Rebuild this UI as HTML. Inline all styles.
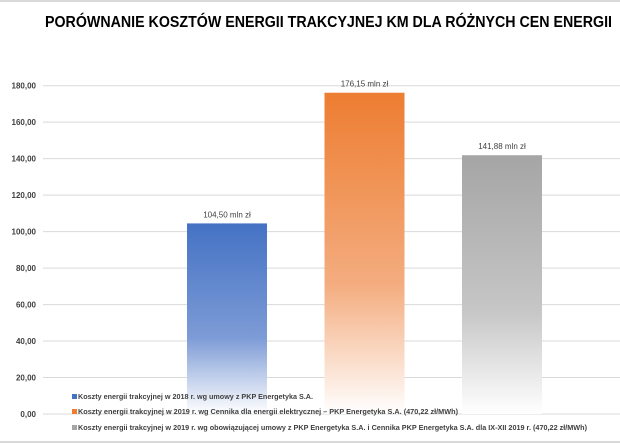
<!DOCTYPE html>
<html><head><meta charset="utf-8"><style>
html,body{margin:0;padding:0;background:#fff;width:620px;height:443px;overflow:hidden;font-family:"Liberation Sans",sans-serif}
</style></head><body>
<svg width="620" height="443">
<defs>
<linearGradient id="gb" x1="0" y1="0" x2="0" y2="1"><stop offset="0" stop-color="#4472c4"/><stop offset="0.6" stop-color="#7d9bd6"/><stop offset="1" stop-color="#ffffff"/></linearGradient>
<linearGradient id="go" x1="0" y1="0" x2="0" y2="1"><stop offset="0" stop-color="#ed7d31"/><stop offset="0.6" stop-color="#f4ad80"/><stop offset="1" stop-color="#ffffff"/></linearGradient>
<linearGradient id="gg" x1="0" y1="0" x2="0" y2="1"><stop offset="0" stop-color="#a5a5a5"/><stop offset="0.6" stop-color="#c6c6c6"/><stop offset="1" stop-color="#ffffff"/></linearGradient>
</defs>
<line x1="0" y1="1" x2="620" y2="1" stroke="#d9d9d9" stroke-width="2"/>
<line x1="0" y1="442" x2="620" y2="442" stroke="#d9d9d9" stroke-width="2"/>
<text x="45" y="27" textLength="567" lengthAdjust="spacingAndGlyphs" font-size="16" font-weight="bold" fill="#000">PORÓWNANIE KOSZTÓW ENERGII TRAKCYJNEJ KM DLA RÓŻNYCH CEN ENERGII</text>
<g id="grid"></g><g id="bars"></g><g id="legend"></g>
</svg>
<script>
const ticks=[0,20,40,60,80,100,120,140,160,180];
const tickLabels=["0,00","20,00","40,00","60,00","80,00","100,00","120,00","140,00","160,00","180,00"];
const categories=["Koszty energii trakcyjnej w 2018 r. wg umowy z  PKP Energetyka S.A.","Koszty energii trakcyjnej w 2019 r. wg Cennika dla energii elektrycznej – PKP Energetyka S.A. (470,22 zł/MWh)","Koszty energii trakcyjnej w 2019 r. wg obowiązującej umowy z PKP Energetyka S.A. i Cennika PKP Energetyka S.A. dla IX-XII 2019 r. (470,22 zł/MWh)"];
const values=[104.50,176.15,141.88];
const valueLabels=["104,50 mln zł","176,15 mln zł","141,88 mln zł"];
const NS="http://www.w3.org/2000/svg";
const y0=414,y180=85.7;
function yScale(v){return y0-(v/180)*(y0-y180);}
function xScale(i){return 187+i*137.5;}
const bw=80;
function mk(t,a,p){const e=document.createElementNS(NS,t);for(const k in a)e.setAttribute(k,a[k]);p.appendChild(e);return e;}
const grid=document.getElementById('grid');
ticks.forEach((t,i)=>{
 const l=mk('line',{x1:43,x2:620,y1:yScale(t),y2:yScale(t),stroke:'#d9d9d9','stroke-width':1},grid);
 
 
 const tx=mk('text',{x:36,y:yScale(t)+3,'text-anchor':'end','font-size':8,'font-weight':'bold',fill:'#404040'},grid);
 tx.textContent=tickLabels[i];
 
 
});
const fills=['url(#gb)','url(#go)','url(#gg)'];
const bars=document.getElementById('bars');
values.forEach((v,i)=>{
 const r=mk('rect',{x:xScale(i),y:yScale(v),width:bw,height:y0-yScale(v),fill:fills[i]},bars);
 
 
 const t=mk('text',{x:xScale(i)+bw/2,y:yScale(v)-6,'text-anchor':'middle','font-size':8,fill:'#404040'},bars);
 t.textContent=valueLabels[i];
 
 
});
const cols=['#4472c4','#ed7d31','#a5a5a5'];
const ly=[399,414,430];
const lw=[235,380,509];
const lg=document.getElementById('legend');
categories.forEach((c,i)=>{
 const g=mk('g',{},lg);
 
 
 mk('rect',{x:72,y:ly[i]-5,width:5,height:5,fill:cols[i]},g);
 const t=mk('text',{x:78,y:ly[i],'font-size':7.6,'font-weight':'bold',fill:'#404040',textLength:lw[i],lengthAdjust:'spacingAndGlyphs'},g);
 t.textContent=c;
});
</script>
</body></html>
